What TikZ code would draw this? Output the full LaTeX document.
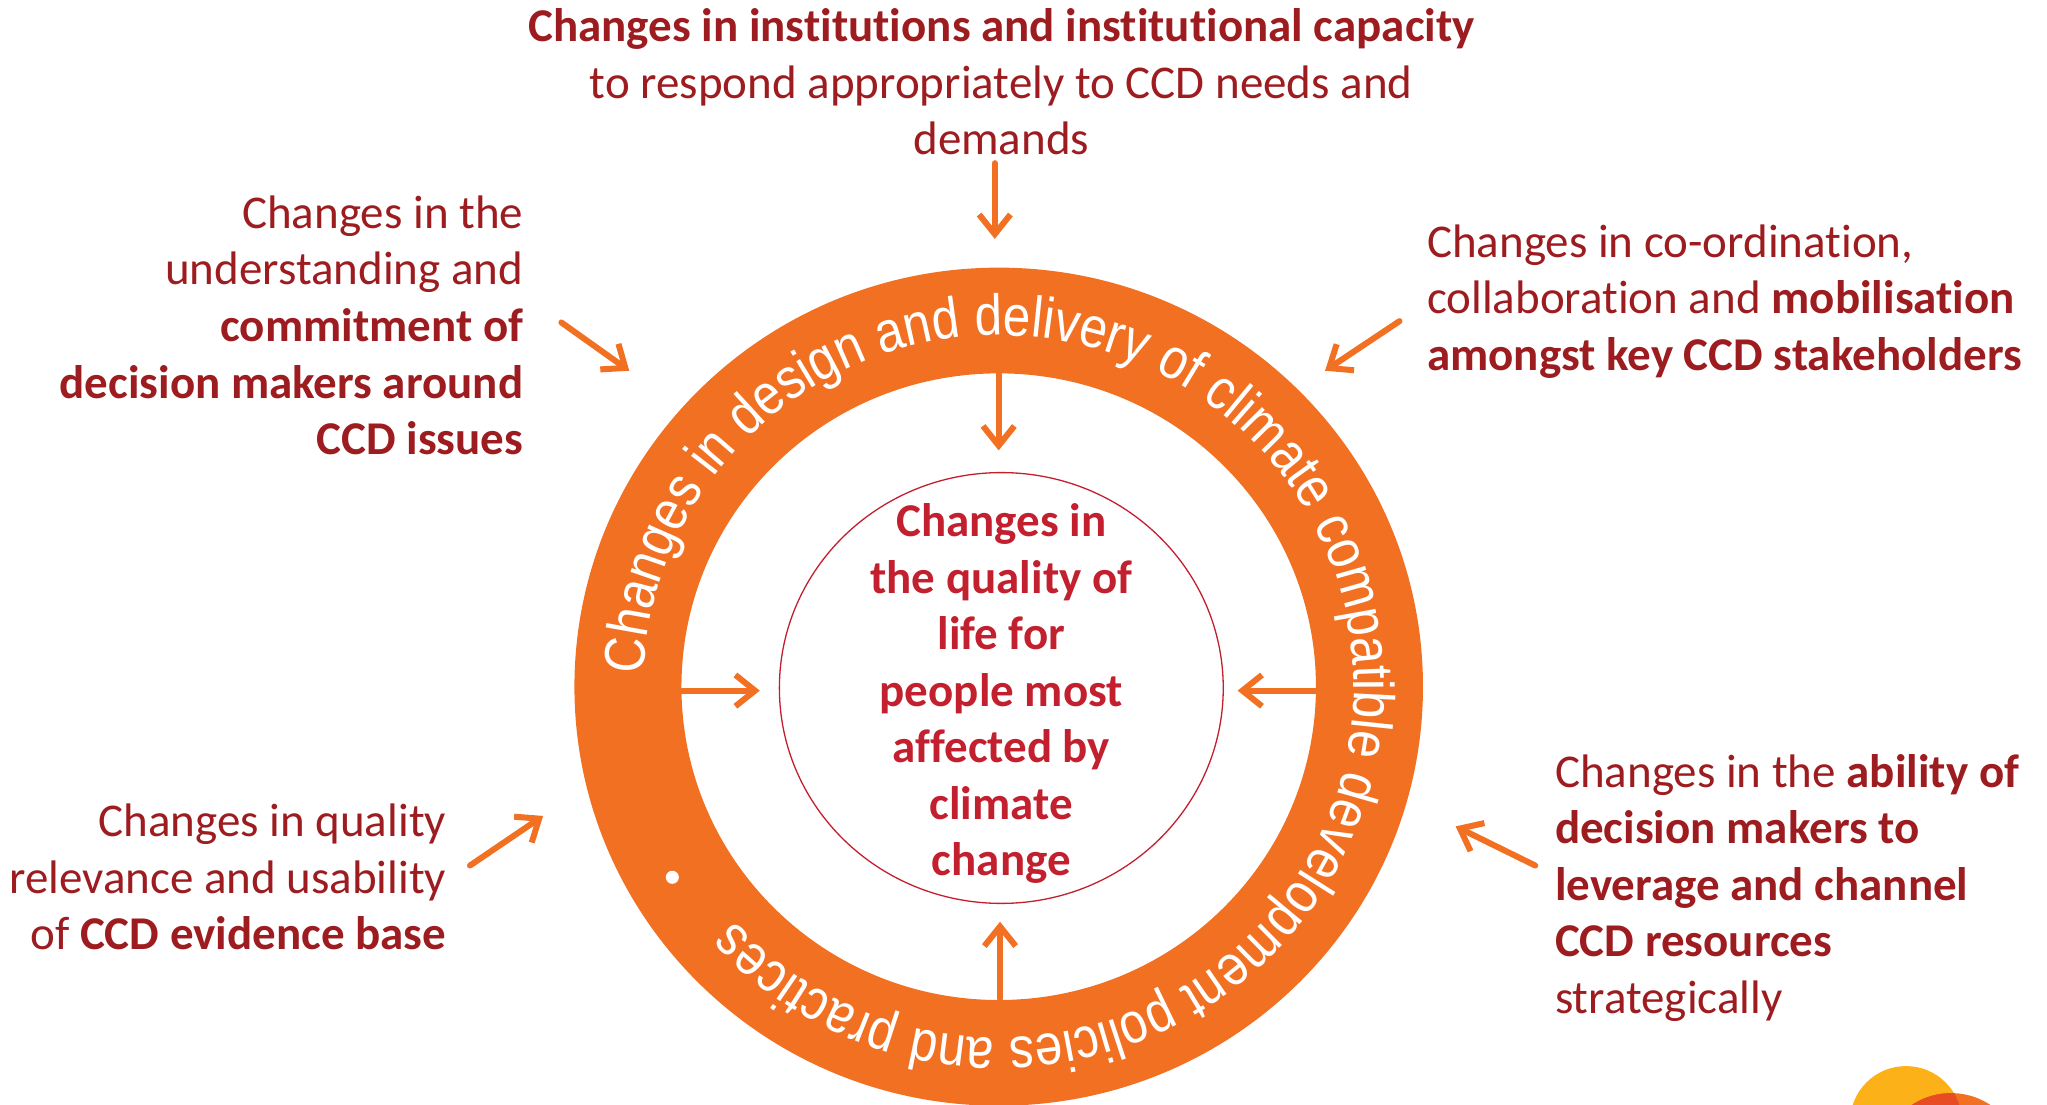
\documentclass[tikz,border=0pt]{standalone}
\usepackage{fontspec}
\setmainfont{Carlito}[Ligatures=NoCommon]
\newfontfamily\ringfont[FakeStretch=0.86]{Liberation Sans}
\usetikzlibrary{arrows.meta, decorations.text, shapes.geometric}

\definecolor{ringorange}{HTML}{F27022}
\definecolor{labelred}{HTML}{9D1C20}
\definecolor{corered}{HTML}{C3202F}
\definecolor{logoyellow}{HTML}{FBB117}
\definecolor{logored}{HTML}{E84C22}

\newcommand\lblsize{\fontsize{36pt}{43.3pt}\selectfont}

\begin{document}
\begin{tikzpicture}[x=1pt, y=-1pt,
  flow/.style={draw=ringorange, line width=4.6pt, line cap=round,
    -{Straight Barb[length=15pt, width=24pt, line width=4.6pt]}},
  lbltext/.style={inner sep=0pt, text=labelred, font=\lblsize},
  coretext/.style={inner sep=0pt, text=corered, font=\lblsize\bfseries},
]
\useasboundingbox (0,0) rectangle (1568,846);

% orange ring
\coordinate (hub) at (765,526);
\fill[ringorange, even odd rule]
  (hub) ellipse[x radius=325, y radius=321]
  (hub) ellipse[x radius=243, y radius=240];

% lettering around the ring
\path[decorate, decoration={text along path, text color=white, text align=left,
  text={|\ringfont\fontsize{44pt}{50pt}\selectfont|Changes in design and delivery of climate compatible development policies and practices}}]
  (hub) ++(182:272 and 269) arc[start angle=182, end angle=540, x radius=272, y radius=269];
\fill[white] (515,672) circle[radius=5];

% inner outcome
\node[ellipse, draw=corered, line width=1pt, minimum width=340pt, minimum height=330pt, inner sep=0pt] (core) at (767,527) {};
\node[coretext, anchor=base] (corelabel) at (767,411)
  {\begin{tabular}[t]{@{}c@{}}Changes in\\ the quality of\\ life for\\ people most\\ affected by\\ climate\\ change\end{tabular}};

% surrounding drivers of change
\node[lbltext, anchor=base] (institutions) at (767,32)
  {\begin{tabular}[t]{@{}c@{}}\textbf{Changes in institutions and institutional capacity}\\ to respond appropriately to CCD needs and\\ demands\end{tabular}};
\node[lbltext, anchor=base east] (understanding) at (401,175)
  {\begin{tabular}[t]{@{}r@{}}Changes in the\\ understanding and\\ \textbf{commitment of}\\ \textbf{decision makers around}\\ \textbf{CCD issues}\end{tabular}};
\node[lbltext, anchor=base west] (coordination) at (1093,197)
  {\begin{tabular}[t]{@{}l@{}}Changes in co-ordination,\\ collaboration and \textbf{mobilisation}\\ \textbf{amongst key CCD stakeholders}\end{tabular}};
\node[lbltext, anchor=base east] (evidence) at (342,641)
  {\begin{tabular}[t]{@{}r@{}}Changes in quality\\ relevance and usability\\ of \textbf{CCD evidence base}\end{tabular}};
\node[lbltext, anchor=base west] (resources) at (1191,603)
  {\begin{tabular}[t]{@{}l@{}}Changes in the \textbf{ability of}\\ \textbf{decision makers to}\\ \textbf{leverage and channel}\\ \textbf{CCD resources}\\ strategically\end{tabular}};

% arrow end points
\coordinate (instFrom) at (762,125);   \coordinate (instTo) at (762,183);
\coordinate (undFrom)  at (430,247);   \coordinate (undTo)  at (482,284);
\coordinate (coFrom)   at (1072,246);  \coordinate (coTo)   at (1015,284);
\coordinate (evFrom)   at (360,663);   \coordinate (evTo)   at (416,625);
\coordinate (resFrom)  at (1176,663);  \coordinate (resTo)  at (1115,633);
\coordinate (ringN) at (765,286);  \coordinate (coreN) at (765,345);
\coordinate (ringS) at (766,765);  \coordinate (coreS) at (766,706);
\coordinate (ringW) at (522,529);  \coordinate (coreW) at (582,529);
\coordinate (ringE) at (1008,529); \coordinate (coreE) at (948,529);

\draw[flow] (instFrom) -- (instTo);
\draw[flow] (undFrom) -- (undTo);
\draw[flow] (coFrom) -- (coTo);
\draw[flow] (evFrom) -- (evTo);
\draw[flow] (resFrom) -- (resTo);
\draw[flow] (ringN) -- (coreN);
\draw[flow] (ringS) -- (coreS);
\draw[flow] (ringW) -- (coreW);
\draw[flow] (ringE) -- (coreE);

% corner emblem
\begin{scope}
  \clip (0,0) rectangle (1568,846);
  \fill[logoyellow] (1460,859.5) circle[radius=42.9];
  \fill[ringorange] (1494.5,891.7) circle[radius=54.4];
  \clip (1460,859.5) circle[radius=42.9];
  \fill[logored] (1494.5,891.7) circle[radius=54.4];
\end{scope}
\end{tikzpicture}
\end{document}
